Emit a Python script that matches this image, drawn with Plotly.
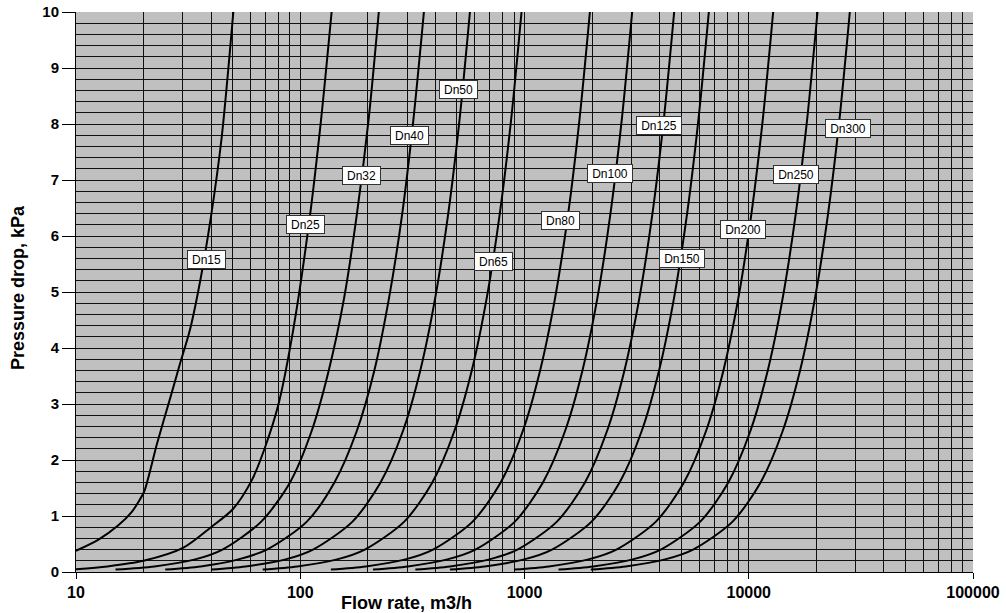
import plotly.graph_objects as go

# ---- data ----
series_names = ["Dn15", "Dn25", "Dn32", "Dn40", "Dn50", "Dn65", "Dn80",
                "Dn100", "Dn125", "Dn150", "Dn200", "Dn250", "Dn300"]

dn15_q = [10, 12.6, 15.4, 17.7, 19.3, 20.2, 23, 26.5, 29, 32.2, 36, 40, 44.6, 50.3]
dn15_dp = [0.38, 0.58, 0.83, 1.07, 1.3, 1.45, 2.3, 3.15, 3.7, 4.32, 5.25, 6.35, 7.75, 10]

dn25_q = [10, 13.8, 20, 30, 40, 50, 61, 70, 80, 93, 110, 124, 138]
dn25_dp = [0.05, 0.1, 0.2, 0.43, 0.8, 1.12, 1.65, 2.25, 3.0, 4.32, 6.3, 8.1, 10]

dp_levels = [0.045, 0.1, 0.225, 0.4, 0.9, 1.6, 2.5, 3.6, 4.9, 6.4, 8.1, 10]

dn32_q = [15, 22.4, 34, 45, 67, 90, 112, 134, 157, 179, 202, 224]
dn40_q = [25, 36, 53, 71, 107, 142, 178, 214, 249, 285, 320, 356]
dn50_q = [40, 57, 86, 114, 171, 228, 286, 343, 400, 457, 514, 571]
dn65_q = [68, 97, 146, 194, 291, 388, 485, 582, 679, 776, 873, 970]
dn80_q = [137, 196, 294, 391, 587, 783, 979, 1174, 1370, 1566, 1761, 1957]
dn100_q = [211, 302, 453, 604, 906, 1208, 1511, 1813, 2115, 2417, 2719, 3021]
dn125_q = [326, 465, 698, 930, 1395, 1860, 2325, 2790, 3255, 3720, 4185, 4650]
dn150_q = [465, 664, 996, 1327, 1991, 2655, 3319, 3982, 4646, 5310, 5973, 6637]
dn200_q = [900, 1285, 1928, 2570, 3855, 5140, 6425, 7710, 8995, 10280, 11565, 12850]
dn250_q = [1418, 2026, 3039, 4052, 6078, 8104, 10130, 12156, 14182, 16208, 18234, 20260]
dn300_q = [1976, 2823, 4235, 5646, 8469, 11292, 14115, 16938, 19761, 22584, 25407, 28230]

curves = [
    (dn15_q, dn15_dp), (dn25_q, dn25_dp),
    (dn32_q, dp_levels), (dn40_q, dp_levels), (dn50_q, dp_levels),
    (dn65_q, dp_levels), (dn80_q, dp_levels), (dn100_q, dp_levels),
    (dn125_q, dp_levels), (dn150_q, dp_levels), (dn200_q, dp_levels),
    (dn250_q, dp_levels), (dn300_q, dp_levels),
]

# label anchor points (log10 flow, pressure drop)
label_x = [1.584, 2.025, 2.275, 2.488, 2.704, 2.861, 3.159, 3.382, 3.598, 3.703, 3.974, 4.209, 4.443]
label_y = [5.58, 6.21, 7.08, 7.80, 8.61, 5.54, 6.28, 7.11, 7.97, 5.60, 6.11, 7.09, 7.92]

x_ticks = [10, 100, 1000, 10000, 100000]
y_ticks = [0, 1, 2, 3, 4, 5, 6, 7, 8, 9, 10]

FONT = "Liberation Sans, Arial, sans-serif"
GRID = "#111111"

fig = go.Figure()
for name, (q, dp) in zip(series_names, curves):
    fig.add_trace(go.Scatter(x=q, y=dp, mode="lines", name=name,
                             line=dict(color="black", width=2, shape="spline", smoothing=0.8),
                             hoverinfo="x+y+name"))

for name, lx, ly in zip(series_names, label_x, label_y):
    fig.add_annotation(x=lx, y=ly, xref="x", yref="y", text=name, showarrow=False,
                       font=dict(family=FONT, size=12, color="black"),
                       bgcolor="white", bordercolor="#333333", borderwidth=1, borderpad=2,
                       width=(33 if len(name) == 4 else 40), height=13)

minor_x = [m * 10 ** k for k in range(1, 5) for m in range(2, 10)]

fig.update_layout(
    width=1006, height=613,
    margin=dict(l=76, r=33, t=12, b=41, autoexpand=False),
    paper_bgcolor="white", plot_bgcolor="#C0C0C0",
    showlegend=False,
    font=dict(family=FONT, color="black"),
    xaxis=dict(type="log", range=[1, 5], automargin=False,
               tickvals=x_ticks, ticktext=[str(v) for v in x_ticks],
               tickfont=dict(family=FONT, size=16, color="black", weight="bold"),
               ticks="outside", ticklen=6, tickcolor="black",
               showgrid=True, gridcolor=GRID, gridwidth=1,
               minor=dict(tickvals=minor_x, showgrid=True, gridcolor=GRID, gridwidth=1, ticks=""),
               showline=True, linecolor="black", linewidth=1,
               zeroline=False, fixedrange=True),
    yaxis=dict(range=[0, 10], tickvals=y_ticks, automargin=False,
               tickfont=dict(family=FONT, size=15, color="black", weight="bold"),
               ticks="outside", ticklen=13, tickcolor="black",
               showgrid=True, gridcolor=GRID, gridwidth=1,
               minor=dict(dtick=0.2, showgrid=True, gridcolor=GRID, gridwidth=1, ticks=""),
               showline=True, linecolor="black", linewidth=1,
               zeroline=False, fixedrange=True),
)

fig.add_annotation(text="Flow rate, m3/h", xref="paper", yref="paper",
                   x=(406 - 76) / 897, y=-(603 - 572) / 560, xanchor="center", yanchor="middle",
                   showarrow=False, font=dict(family=FONT, size=18, color="black", weight="bold"))
fig.add_annotation(text="Pressure drop, kPa", xref="paper", yref="paper",
                   x=-(76 - 18) / 897, y=(572 - 288) / 560, xanchor="center", yanchor="middle",
                   textangle=-90, showarrow=False,
                   font=dict(family=FONT, size=18, color="black", weight="bold"))

fig.write_html("out.html",
               config={"displayModeBar": False},
               post_script="document.body.style.margin='0';document.body.style.padding='0';")
